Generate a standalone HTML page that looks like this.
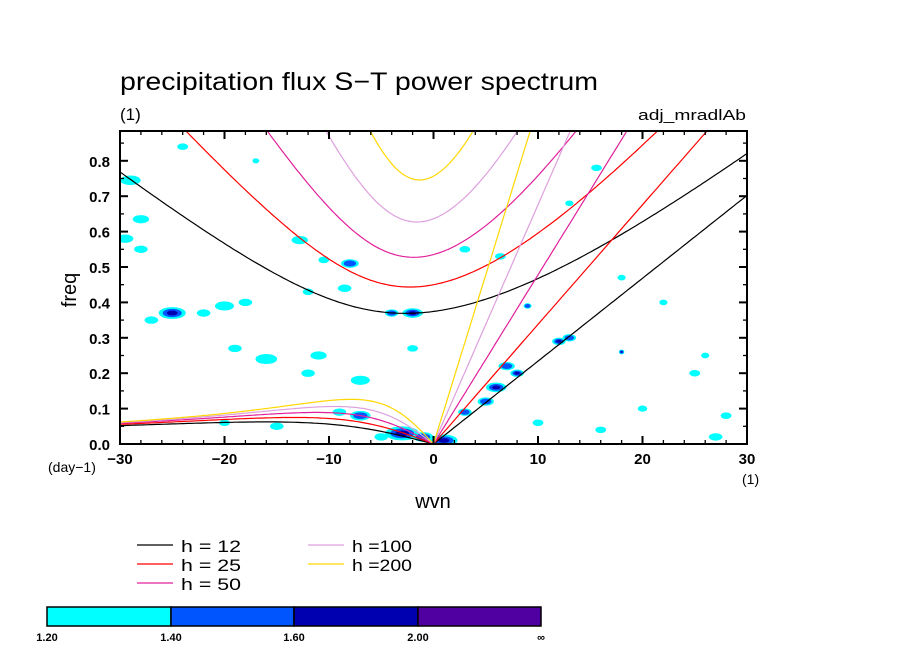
<!DOCTYPE html>
<html><head><meta charset="utf-8"><style>
body{margin:0;background:#fff;}
svg{display:block;font-family:"Liberation Sans",sans-serif;}
</style></head><body>
<svg id="chart" width="904" height="654" viewBox="0 0 904 654" xmlns="http://www.w3.org/2000/svg">
<rect width="904" height="654" fill="#fff"/>
<text x="120" y="90" font-size="25" textLength="478" lengthAdjust="spacingAndGlyphs" fill="#000">precipitation flux S−T power spectrum</text>
<text x="120" y="120" font-size="17">(1)</text>
<text x="638" y="120" font-size="15" textLength="108" lengthAdjust="spacingAndGlyphs">adj_mradlAb</text>
<g id="blobs"></g>
<g id="curves"></g>
<g id="axes"></g>
<text x="0" y="0" font-size="20" transform="translate(76,290) rotate(-90)" text-anchor="middle">freq</text>
<text x="433" y="508" font-size="20" text-anchor="middle">wvn</text>
<text x="48" y="472" font-size="14">(day−1)</text>
<text x="742" y="484" font-size="14">(1)</text>
<g id="legend"></g>
<g id="colorbar"></g>
</svg>
<script>
const depths=[12,25,50,100,200];
const depthColors=["#000000","#ff0000","#e0209c","#dda0dd","#ffd700"];
const xTicks=[-30,-20,-10,0,10,20,30];
const yTicks=[0,0.1,0.2,0.3,0.4,0.5,0.6,0.7,0.8];
const blobWvn=[-29,-29.5,-28,-28,-24,-17,-12,-8.5,-8,-10.5,-12.8,-25,-27,-22,-20,-18,-2,-4,-16,-19,-12,-7,-11,-2,-9,-7,-3,-1,1,3,5,6,8,7,9,12,13,6.4,3,15.6,18,25,26,28,20,16,27,22,18,13,-15,-5,-20,10];
const blobFreq=[0.745,0.58,0.55,0.635,0.84,0.80,0.43,0.44,0.51,0.52,0.576,0.37,0.35,0.37,0.39,0.40,0.37,0.37,0.24,0.27,0.20,0.18,0.25,0.27,0.09,0.08,0.03,0.02,0.01,0.09,0.12,0.16,0.20,0.22,0.39,0.29,0.30,0.53,0.55,0.78,0.26,0.2,0.25,0.08,0.1,0.04,0.02,0.40,0.47,0.68,0.05,0.02,0.06,0.06];
const blobSize=[1.5,1.2,1,1.2,0.8,0.5,0.8,1,1.3,0.8,1.2,2,1,1,1.4,1,1.5,1,1.6,1,1,1.4,1.2,0.8,1,1.5,2.5,1.5,2,1,1.2,1.5,1,1.2,0.6,1,1,0.8,0.8,0.8,0.4,0.8,0.6,0.8,0.7,0.8,1,0.6,0.6,0.6,1,1,0.8,0.8];
const blobLevel=[0,0,0,0,0,0,0,0,1,0,0,2,0,0,0,0,2,1,0,0,0,0,0,0,0,1,2,1,2,1,1,2,2,1,1,2,1,0,0,0,2,0,0,0,0,0,0,0,0,0,0,0,0,0];
const levelColors=["#00ffff","#0055ff","#0000b0","#5000a0"];
const levelLabels=["1.20","1.40","1.60","2.00","∞"];
const NS="http://www.w3.org/2000/svg";
const X0=120,X1=747,Y0=444,YT=131;
const xs=v=>X0+(v+30)/60*(X1-X0);
const ys=v=>Y0-v*354;
function mk(tag,attrs,parent){const e=document.createElementNS(NS,tag);for(const k in attrs)e.setAttribute(k,attrs[k]);parent.appendChild(e);return e;}
const svg=document.getElementById('chart');
const defs=mk('defs',{},svg);
const cp=mk('clipPath',{id:'plotclip'},defs);mk('rect',{x:X0,y:YT,width:X1-X0,height:Y0-YT},cp);
const bg=document.getElementById('blobs');bg.setAttribute('clip-path','url(#plotclip)');
for(let i=0;i<blobWvn.length;i++){
  for(let l=0;l<=blobLevel[i];l++){
    const sc=1-l*0.3;
    const e=mk('ellipse',{cx:xs(blobWvn[i]),cy:ys(blobFreq[i]),rx:blobSize[i]*10.45*0.65*sc,ry:(1.5+blobSize[i]*2.2)*sc,fill:levelColors[l]},bg);
    
    
  }
}
const a=6.371e6,beta=2.28e-11,g=9.8;
const cg=document.getElementById('curves');cg.setAttribute('clip-path','url(#plotclip)');
function toF(w){return w*86400/(2*Math.PI);}
depths.forEach((h,i)=>{
  const c=Math.sqrt(g*h);let kel=[],ig=[],er=[];
  for(let s=-30;s<=30.001;s+=0.25){
    const k=s/a;
    if(s>=0)kel.push([s,toF(k*c)]);
    let w=Math.sqrt(3*beta*c+k*k*c*c);
    for(let it=0;it<30;it++)w=Math.sqrt(c*c*k*k+3*beta*c+beta*k*c*c/w);
    ig.push([s,toF(w)]);
    if(s<=0)er.push([s,toF(-beta*k/(k*k+3*beta/c))]);
  }
  [kel,ig,er].forEach((pts,j)=>{
    const p=mk('path',{d:pts.map((q,n)=>(n?'L':'M')+xs(q[0]).toFixed(1)+','+ys(q[1]).toFixed(1)).join(''),fill:'none',stroke:depthColors[i],'stroke-width':1.2},cg);
    
    
  });
});
const ax=document.getElementById('axes');
mk('rect',{x:X0,y:YT,width:X1-X0,height:Y0-YT,fill:'none',stroke:'#000','stroke-width':2},ax);
for(let s=-30;s<=30;s+=2){const maj=s%10===0,L=maj?8:4;
  mk('line',{x1:xs(s),x2:xs(s),y1:Y0,y2:Y0-L,stroke:'#000','stroke-width':maj?2:1.3},ax);
  mk('line',{x1:xs(s),x2:xs(s),y1:YT,y2:YT+L,stroke:'#000','stroke-width':maj?2:1.3},ax);}
for(let f=0;f<=0.88;f+=0.05){const maj=Math.round(f*100)%10===0,L=maj?8:4;
  mk('line',{x1:X0,x2:X0+L,y1:ys(f),y2:ys(f),stroke:'#000','stroke-width':maj?2:1.3},ax);
  mk('line',{x1:X1,x2:X1-L,y1:ys(f),y2:ys(f),stroke:'#000','stroke-width':maj?2:1.3},ax);}
xTicks.forEach(t=>{const e=mk('text',{x:xs(t),y:464,'font-size':15,'text-anchor':'middle','font-weight':'bold'},ax);e.textContent=t<0?'−'+(-t):t;
  });
yTicks.forEach(t=>{const e=mk('text',{x:110,y:ys(t)+6,'font-size':15,'text-anchor':'end','font-weight':'bold'},ax);e.textContent=t.toFixed(1);
  });
const lg=document.getElementById('legend');
const lpos=[[137,545],[137,564],[137,583],[308,545],[308,564]];
depths.forEach((h,i)=>{
  const [x,y]=lpos[i];
  const ln=mk('line',{x1:x,x2:x+36,y1:y,y2:y,stroke:depthColors[i],'stroke-width':1.2},lg);
  
  const t=mk('text',{x:x+44,y:y+7,'font-size':17,textLength:60,lengthAdjust:'spacingAndGlyphs'},lg);t.textContent=h<100?'h = '+h:'h ='+h;
  
});
const cb=document.getElementById('colorbar');
const cbx=[47,171,294,418,541];
for(let i=0;i<4;i++){const r=mk('rect',{x:cbx[i],y:607,width:cbx[i+1]-cbx[i],height:19,fill:levelColors[i],stroke:'#000','stroke-width':1.5},cb);
  }
levelLabels.forEach((l,i)=>{const t=mk('text',{x:cbx[i],y:641,'font-size':11,'font-weight':'bold','text-anchor':'middle'},cb);t.textContent=l;
  });
</script>
</body></html>
